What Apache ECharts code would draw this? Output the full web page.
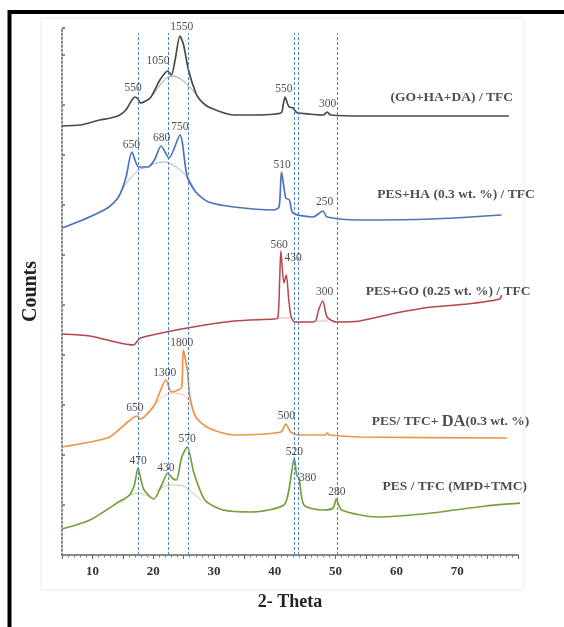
<!DOCTYPE html>
<html>
<head>
<meta charset="utf-8">
<script src="https://cdn.jsdelivr.net/npm/echarts@6/dist/echarts.min.js"></script>
<style>html,body{margin:0;padding:0;background:#fff;}#c{width:564px;height:627px;}</style>
</head>
<body>
<div id="c"></div>
<script>
// ---- Data (2-Theta, Counts, traces vertically offset as in the figure) ----
const gohadaTrace = [[5,4290],[8,4300],[11.2,4350],[13,4370],[14.5,4400],[15.5,4450],[16.5,4550],[17,4580],[17.5,4560],[17.9,4520],[19.5,4570],[21.1,4750],[22.4,4840],[23,4800],[23.6,4950],[24.4,5190],[25,5100],[25.8,4850],[27,4620],[27.7,4550],[29.1,4480],[33.3,4400],[36,4400],[41,4420],[41.4,4510],[41.7,4580],[42.1,4510],[42.4,4480],[43,4470],[43.5,4430],[43.9,4420],[48,4400],[48.6,4430],[49.2,4400],[55,4390],[65,4390],[78.5,4390]];
const gohadaHalo = [[17.9,4520],[19.5,4570],[21,4690],[22.2,4770],[23.3,4790],[24.5,4760],[26,4680],[27.7,4560],[29.1,4480]];
const peshaTrace = [[5,3270],[8.4,3350],[12.5,3470],[14.3,3580],[15.5,3770],[16.5,4030],[17.6,3880],[19.1,3880],[20.2,3950],[21.3,4090],[22.6,3970],[24.4,4200],[25.6,3780],[27,3630],[29.1,3530],[33.3,3480],[39.8,3450],[40.7,3480],[41.1,3830],[41.8,3570],[42.4,3550],[43,3420],[46.3,3380],[47.9,3440],[48.6,3380],[54,3350],[65.8,3360],[77.3,3400]];
const peshaHalo = [[14.3,3580],[15.6,3720],[17.6,3850],[19.1,3880],[20.5,3920],[22,3930],[23.8,3880],[25.6,3780],[27,3640]];
const pesgoTrace = [[5,2210],[9.6,2190],[16.7,2100],[17.9,2170],[25.6,2270],[33.3,2340],[39.8,2360],[40.5,2370],[40.8,2750],[41,3040],[41.5,2720],[41.9,2800],[42.3,2550],[42.7,2380],[43.3,2330],[46.3,2330],[46.8,2350],[47.2,2450],[47.9,2540],[48.6,2380],[50.1,2330],[54,2340],[59.9,2420],[65.8,2480],[71.7,2510],[77,2560],[77.3,2600]];
const pesgoHaloA = [[40.3,2370],[42.8,2370]];
const pesgoHaloB = [[46.8,2340],[48.8,2340]];
const pesdaTrace = [[5,1080],[12.5,1170],[14.3,1250],[16,1340],[17.3,1390],[17.9,1360],[20.2,1500],[22.1,1750],[23,1630],[24.1,1650],[24.7,1680],[24.95,2050],[25.6,1850],[26.05,1580],[27,1380],[29.1,1270],[33.3,1200],[41,1230],[41.8,1310],[42.6,1230],[43.9,1200],[48.3,1200],[48.6,1220],[49,1200],[54,1180],[78.2,1170]];
const pesdaHalo = [[17.9,1360],[19.5,1450],[21.5,1580],[23.2,1620],[25,1600],[26,1530],[27,1380]];
const mpdTrace = [[5,260],[9.6,350],[14.3,530],[16.1,600],[16.9,700],[17.5,870],[18,750],[18.5,650],[20.1,560],[21.4,700],[22.4,820],[23.1,770],[23.8,750],[24.7,980],[25.6,1080],[26.7,820],[28.5,550],[31.5,450],[36.2,430],[41.5,500],[42.4,680],[43.2,970],[43.6,800],[44,770],[44.8,500],[48,450],[49.6,470],[50.1,560],[51,450],[56.9,380],[65.8,420],[74.7,490],[80.8,520]];
const mpdHaloA = [[14.8,520],[16,590],[17.5,620],[18.8,600],[19.8,560]];
const mpdHaloB = [[20.6,640],[22,690],[23.5,700],[25,690],[26.5,620],[28,540]];

// reference 2-Theta positions (dashed lines)
const refLines = [17.6, 22.5, 25.7, 43.2, 43.85, 50.2];

// peak annotations [2-Theta, Counts, text]
const gohadaPeaks = [[16.7,4670,'550'],[20.8,4940,'1050'],[24.7,5280,'1550'],[41.5,4660,'550'],[48.7,4510,'300']];
const peshaPeaks = [[16.4,4100,'650'],[21.4,4170,'680'],[24.4,4280,'750'],[41.2,3900,'510'],[48.2,3530,'250']];
const pesgoPeaks = [[40.7,3100,'560'],[43.0,2970,'430'],[48.2,2630,'300']];
const pesdaPeaks = [[24.7,2120,'1800'],[21.9,1820,'1300'],[17.0,1470,'650'],[41.9,1390,'500']];
const mpdPeaks = [[17.5,940,'470'],[22.1,870,'430'],[25.6,1160,'570'],[43.2,1030,'520'],[45.4,770,'380'],[50.2,630,'280']];

// sample names [2-Theta, Counts, text]
const sampleNames = [[69.1,4570,'(GO+HA+DA) / TFC'],[69.8,3600,'PES+HA (0.3 wt. %) / TFC'],[68.5,2630,'PES+GO (0.25 wt. %) / TFC'],[68.9,1330,'PES/ TFC+ {b|DA}(0.3 wt. %)'],[69.6,680,'PES / TFC (MPD+TMC)']];

const xTicks = [10,20,30,40,50,60,70];

// ---- chart ----
const FONT = '"Liberation Serif","Times New Roman",serif';
function trace(data, color, width, z) {
  return {type:'line', data:data, smooth:0.25, symbol:'none', clip:false, z:z||3,
    lineStyle:{color:color, width:width}};
}
function labels(data, size, bold) {
  return {type:'scatter', data:data, symbolSize:0, clip:false, z:10, silent:true,
    label:{show:true, position:'inside', formatter:p=>p.data[2], color:'#222',
      fontFamily:FONT, fontSize:size, fontWeight:bold?'bold':'normal',
      rich:{b:{fontFamily:FONT, fontSize:size+3, fontWeight:'bold', color:'#222'}}}};
}
const chart = echarts.init(document.getElementById('c'), null, {renderer:'canvas'});
const series = [
  trace(gohadaHalo,'#9a9a9a',1,2), trace(gohadaTrace,'#4a4a4a',1.7),
  trace(peshaHalo,'#9bb1d8',1,2), trace(peshaTrace,'#4d74b8',1.7),
  trace(pesgoHaloA,'#e2b4b6',1,2), trace(pesgoHaloB,'#e2b4b6',1,2), trace(pesgoTrace,'#b5464c',1.5),
  trace(pesdaHalo,'#f1c79a',1,2), trace(pesdaTrace,'#ec9548',1.7),
  trace(mpdHaloA,'#b9d08f',1,2), trace(mpdHaloB,'#b9d08f',1,2), trace(mpdTrace,'#76a03a',1.7),
  {type:'line', data:[], symbol:'none', z:1,
    markLine:{silent:true, symbol:['none','none'], label:{show:false},
      lineStyle:{color:'#4f81c7', type:[3,2], width:1},
      data: refLines.map(v=>[{coord:[v,0]},{coord:[v,5220]}])}},
  labels(gohadaPeaks,11.5,false), labels(peshaPeaks,11.5,false), labels(pesgoPeaks,11.5,false),
  labels(pesdaPeaks,11.5,false), labels(mpdPeaks,11.5,false),
  labels(sampleNames,13.5,true)
];
chart.setOption({
  animation:false,
  backgroundColor:'#fff',
  grid:{left:62, right:46, top:28, bottom:72},
  xAxis:{type:'value', min:5, max:80, interval:5,
    name:'2- Theta', nameLocation:'middle', nameGap:38,
    nameTextStyle:{fontFamily:FONT, fontSize:18, fontWeight:'bold', color:'#222'},
    axisLine:{lineStyle:{color:'#666', width:1.5}},
    axisTick:{show:true, length:4, lineStyle:{color:'#666'}},
    minorTick:{show:true, splitNumber:5, length:2.5, lineStyle:{color:'#777'}},
    splitLine:{show:false},
    axisLabel:{margin:10, fontFamily:FONT, fontSize:13, fontWeight:'bold', color:'#333',
      formatter:v=> xTicks.indexOf(v)>=0 ? String(v) : ''}},
  yAxis:{type:'value', min:0, max:5270, interval:500,
    name:'Counts', nameLocation:'middle', nameGap:21,
    nameTextStyle:{fontFamily:FONT, fontSize:20, fontWeight:'bold', color:'#222'},
    axisLine:{show:true, lineStyle:{color:'#888', width:2, type:[1.5,2.5]}},
    axisTick:{show:true, inside:true, length:3, lineStyle:{color:'#888', width:2}},
    axisLabel:{show:false}, splitLine:{show:false}},
  graphic:[
    {type:'rect', silent:true, z:-1, shape:{x:41, y:18, width:483, height:572},
      style:{fill:'none', stroke:'#ececec', lineWidth:1}},
    {type:'rect', silent:true, z:100, shape:{x:9.5, y:12, width:620, height:700},
      style:{fill:'none', stroke:'#000', lineWidth:4}}
  ],
  series:series
});
</script>
</body>
</html>
